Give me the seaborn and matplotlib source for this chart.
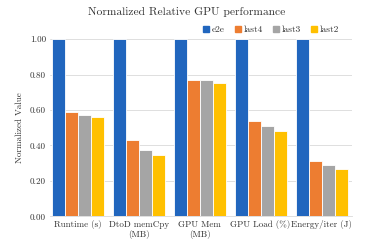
import matplotlib
matplotlib.use("Agg")
import matplotlib.pyplot as plt
import pandas as pd
import seaborn as sns
from matplotlib.ticker import StrMethodFormatter

categories = ["Runtime (s)", "DtoD memCpy\n(MB)", "GPU Mem\n(MB)", "GPU Load (%)", "Energy/iter (J)"]
series = ["e2e", "last4", "last3", "last2"]
e2e = [1.00, 1.00, 1.00, 1.00, 1.00]
last4 = [0.591, 0.433, 0.768, 0.537, 0.314]
last3 = [0.572, 0.375, 0.768, 0.510, 0.290]
last2 = [0.559, 0.348, 0.753, 0.482, 0.267]
colors = ["#2166BE", "#ED7D31", "#A5A5A5", "#FFC000"]

rows = []
for name, vals in zip(series, [e2e, last4, last3, last2]):
    for cat, v in zip(categories, vals):
        rows.append({"metric": cat, "run": name, "value": v})
df = pd.DataFrame(rows)

sns.set_theme(style="white")
plt.rcParams["font.family"] = ["cmr10", "DejaVu Serif"]
plt.rcParams["axes.formatter.use_mathtext"] = True

fig = plt.figure(figsize=(3.66, 2.44), dpi=100)
ax = fig.add_axes([0.137, 0.1135, 0.825, 0.7255])
sns.barplot(data=df, x="metric", y="value", hue="run", palette=colors, saturation=1,
            width=0.85, edgecolor="white", linewidth=0.6, ax=ax, zorder=3)

ax.set_ylim(0, 1.0)
ax.set_xlim(-0.45, 4.5)
ax.set_yticks([0, 0.2, 0.4, 0.6, 0.8, 1.0])
ax.yaxis.set_major_formatter(StrMethodFormatter("{x:.2f}"))
ax.grid(axis="y", color="#D9D9D9", linewidth=0.6, zorder=0)
for s in ["top", "right", "left"]:
    ax.spines[s].set_visible(False)
ax.spines["bottom"].set_color("#D9D9D9")
ax.spines["bottom"].set_linewidth(0.6)
ax.tick_params(axis="both", length=0, labelsize=6.5, colors="#333333", pad=3)
ax.set_xlabel("")
ax.set_ylabel("Normalized Value", fontsize=6.5, color="#333333", labelpad=4)

ax.get_legend().remove()
handles = [plt.Rectangle((0, 0), 1, 1, color=c) for c in colors]
fig.legend(handles, series, loc="center right", bbox_to_anchor=(0.95, 0.877),
           ncol=4, frameon=False, fontsize=6.8, handlelength=0.6, handleheight=0.6,
           handletextpad=0.3, columnspacing=1.1, labelcolor="#333333")

fig.suptitle("Normalized Relative GPU performance", x=0.51, y=0.95, va="center",
             fontsize=8.3, color="#333333")

fig.savefig("out.png", dpi=100)
